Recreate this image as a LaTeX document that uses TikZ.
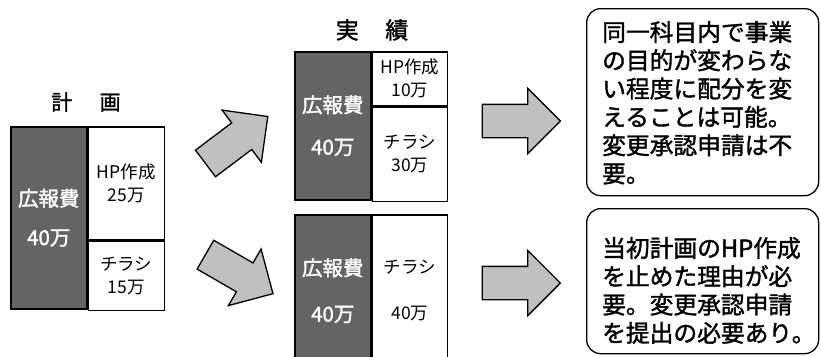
\documentclass[tikz,border=0pt]{standalone}
\usepackage{fontspec}
\setmainfont{Noto Sans CJK JP}
\newfontfamily\heavy{Noto Sans CJK JP}[FakeBold=1.5]
\usepackage{tikz}
\usetikzlibrary{shapes.arrows, positioning}
\definecolor{darkfill}{RGB}{100,100,100}
\definecolor{arrowfill}{RGB}{192,192,192}
\tikzstyle{cell} = [draw, line width=1.5pt, rectangle, inner sep=0pt, anchor=north west, align=center]
\tikzstyle{darkcell} = [cell, fill=darkfill, text=white, font=\heavy\fontsize{20.5}{39}\selectfont]
\tikzstyle{whitecell} = [cell, fill=white, font=\fontsize{17.5}{23}\selectfont]
\tikzstyle{title} = [inner sep=0pt, font=\heavy\fontsize{21}{24}\selectfont]
\tikzstyle{fatarrow} = [single arrow, draw, line width=1.3pt, fill=arrowfill, minimum height=78pt, inner xsep=0pt, inner ysep=16pt, single arrow head extend=16pt, single arrow head indent=0pt]
\tikzstyle{notebox} = [draw, line width=1.3pt, rounded corners=14pt, minimum width=232pt, anchor=north west]
\tikzstyle{notetext} = [text width=200pt, align=left, inner sep=0pt, anchor=base west, font=\heavy\fontsize{23.75}{28.3}\selectfont]

\begin{document}
\begin{tikzpicture}[x=1pt, y=-1pt]
  \useasboundingbox (0,0) rectangle (821,356);
  \clip (0,0) rectangle (821,356);
  % plan
  \node[title] (plantitle) at (86,102) {計\hspace{1.3em}画};
  \node[darkcell, minimum width=76pt, minimum height=182pt] (plancost) at (10,126) {広報費\\40万};
  \node[whitecell, minimum width=76pt, minimum height=113pt] (planhp) at (plancost.north east) {HP作成\\25万};
  \node[whitecell, minimum width=76pt, minimum height=69pt] (planflyer) at (planhp.south west) {チラシ\\15万};
  % actual
  \node[title, font=\heavy\fontsize{23}{26}\selectfont] (actualtitle) at (372,30) {実\hspace{1.15em}績};
  \node[darkcell, minimum width=76pt, minimum height=148pt] (topcost) at (294,51) {広報費\\[3pt]40万};
  \node[whitecell, minimum width=75pt, minimum height=54pt] (tophp) at (topcost.north east) {HP作成\\10万};
  \node[whitecell, minimum width=75pt, minimum height=94pt] (topflyer) at (tophp.south west) {チラシ\\30万};
  \node[darkcell, minimum width=76pt, minimum height=152pt] (bottomcost) at (294,214) {広報費\\[7pt]40万};
  \node[whitecell, minimum width=75pt, minimum height=152pt, font=\fontsize{17.5}{46}\selectfont] (bottomflyer) at (bottomcost.north east) {チラシ\\40万};
  % arrows
  \node[fatarrow, rotate=37] (uparrow) at (230,145) {};
  \node[fatarrow, rotate=-30] (downarrow) at (232,270) {};
  \node[fatarrow] (toparrow) at (513,121) {};
  \node[fatarrow] (bottomarrow) at (513,283) {};
  % notes
  \node[notebox, minimum height=187pt] (topnote) at (586,8) {};
  \node[notetext] (topnotetext) at (602,41) {同一科目内で事業\\の目的が変わらな\\い程度に配分を変\\えることは可能。\\変更承認申請は不\\要。};
  \node[notebox, minimum height=145pt] (bottomnote) at (586,208) {};
  \node[notetext] (bottomnotetext) at (602,257) {当初計画のHP作成\\を止めた理由が必\\要。変更承認申請\\を提出の必要あり。};
\end{tikzpicture}
\end{document}
